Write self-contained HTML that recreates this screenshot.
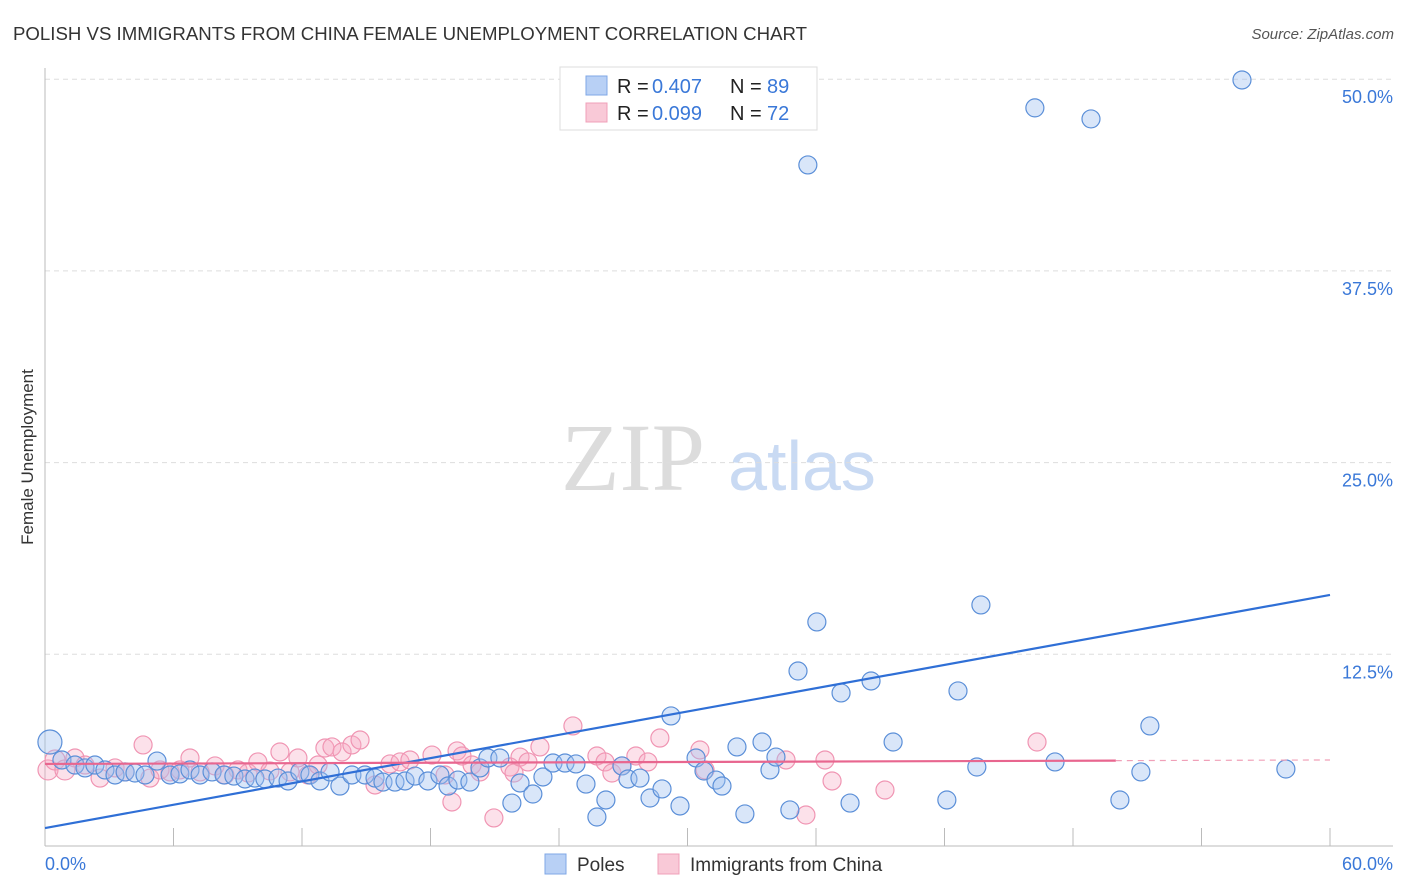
<!DOCTYPE html>
<html><head><meta charset="utf-8"><style>
body{margin:0;background:#fff;font-family:"Liberation Sans",sans-serif;}
svg{display:block}
</style></head><body>
<svg id="chart" width="1406" height="892">
<text x="13" y="40" font-size="18" fill="#333" textLength="794" lengthAdjust="spacingAndGlyphs">POLISH VS IMMIGRANTS FROM CHINA FEMALE UNEMPLOYMENT CORRELATION CHART</text>
<text x="1394" y="39" font-size="15" font-style="italic" fill="#555" text-anchor="end">Source: ZipAtlas.com</text>
<text x="33" y="457" font-size="17" fill="#333" text-anchor="middle" transform="rotate(-90 33 457)">Female Unemployment</text>
<g>
<text x="633" y="490" font-size="96" font-family="Liberation Serif,serif" fill="#dcdcdc" text-anchor="middle">ZIP</text>
<text x="802" y="490" font-size="70" fill="#c9daf3" text-anchor="middle">atlas</text>
</g>
<g id="grid"></g>
<g id="axes"></g>
<g id="marks"></g>
<g>
<rect x="560" y="67" width="257" height="63" fill="#fff" stroke="#ddd"/>
<rect x="586" y="76" width="21" height="19" fill="#b8d0f5" stroke="#7fa7e6"/>
<rect x="586" y="103" width="21" height="19" fill="#f9c9d7" stroke="#f0a0b8"/>
<text x="617" y="93" font-size="20" fill="#222">R =</text>
<text x="652" y="93" font-size="20" fill="#3a78d8">0.407</text>
<text x="730" y="93" font-size="20" fill="#222">N =</text>
<text x="767" y="93" font-size="20" fill="#3a78d8">89</text>
<text x="617" y="120" font-size="20" fill="#222">R =</text>
<text x="652" y="120" font-size="20" fill="#3a78d8">0.099</text>
<text x="730" y="120" font-size="20" fill="#222">N =</text>
<text x="767" y="120" font-size="20" fill="#3a78d8">72</text>
</g>
<g>
<rect x="545" y="854" width="21" height="20" fill="#b8d0f5" stroke="#7fa7e6"/>
<text x="577" y="871" font-size="19" fill="#333">Poles</text>
<rect x="658" y="854" width="21" height="20" fill="#f9c9d7" stroke="#f0a0b8"/>
<text x="690" y="871" font-size="19" fill="#333">Immigrants from China</text>
</g>
</svg>
<script>
const xTicks=[0,6,12,18,24,30,36,42,48,54,60];
const yTicks=[12.5,25,37.5,50];
const yTickLabels=["12.5%","25.0%","37.5%","50.0%"];
const polesX=[.23,.79,1.4,1.87,2.33,2.8,3.27,3.74,4.2,4.67,5.23,5.84,6.3,6.77,7.24,7.8,8.36,8.82,9.34,9.8,10.27,10.88,11.35,11.9,12.37,12.84,13.31,13.77,14.33,14.94,15.41,15.78,16.34,16.81,17.28,17.88,18.44,18.82,19.28,19.84,20.31,20.68,21.24,21.8,22.18,22.78,23.25,23.72,24.28,24.79,25.26,25.77,26.19,26.94,27.22,27.78,28.25,28.81,29.65,29.23,30.4,30.77,31.33,31.61,32.31,32.68,33.48,33.85,34.13,34.78,35.16,35.62,36.04,37.17,37.59,38.57,39.6,42.11,42.63,43.51,43.7,46.22,47.16,48.84,50.19,51.17,51.59,55.89,57.94];
const polesY=[6.78,5.61,5.28,5.09,5.28,4.96,4.63,4.83,4.76,4.63,5.54,4.63,4.7,4.96,4.63,4.83,4.63,4.56,4.37,4.43,4.37,4.43,4.24,4.83,4.63,4.24,4.83,3.91,4.63,4.63,4.43,4.17,4.17,4.24,4.56,4.24,4.63,3.91,4.3,4.17,5.09,5.74,5.74,2.8,4.11,3.39,4.5,5.41,5.41,5.35,4.04,1.89,3.0,5.22,4.37,4.43,3.13,3.72,2.61,8.48,5.74,4.89,4.3,3.91,6.46,2.09,6.78,4.96,5.8,2.35,11.41,44.41,14.61,9.98,2.8,10.76,6.78,3.0,10.11,5.15,15.72,48.13,5.48,47.41,3.0,4.83,7.83,49.95,5.02];
const chinaX=[.14,.47,.93,1.4,1.87,2.57,3.27,3.74,4.58,4.9,5.37,5.84,6.3,6.77,7.24,7.94,8.4,9.01,9.48,9.94,10.5,10.97,11.44,11.81,12.28,12.75,13.07,13.4,13.87,14.33,14.71,15.41,16.11,16.58,17.04,18.07,18.68,19.0,19.24,19.47,19.94,20.31,20.96,21.71,21.9,22.18,22.55,23.11,24.65,25.77,26.15,26.47,26.94,27.59,28.15,28.71,30.58,30.82,34.6,35.53,36.42,36.75,39.22,46.32];
const chinaY=[4.96,5.61,4.96,5.74,5.28,4.43,5.09,4.83,6.59,4.43,4.96,4.83,4.96,5.74,4.83,5.22,4.63,4.96,4.76,5.48,4.89,6.13,4.83,5.74,4.63,5.28,6.39,6.46,6.13,6.59,6.91,3.98,5.35,5.48,5.61,5.93,4.63,2.87,6.2,5.87,5.28,4.83,1.83,5.15,4.76,5.8,5.48,6.46,7.83,5.87,5.48,4.76,5.22,5.87,5.48,7.04,6.26,4.96,5.61,2.02,5.61,4.24,3.65,6.78];
const polesTrend=[1.17,16.37];
const chinaTrend=[5.35,5.61];
const chinaTrendEnd=50;
const NS="http://www.w3.org/2000/svg";
const sx=v=>45+v/60*1285;
const sy=v=>846-v/12.5*191.7;
function mk(tag,attrs,parent){const e=document.createElementNS(NS,tag);for(const k in attrs)e.setAttribute(k,attrs[k]);parent.appendChild(e);return e;}
const grid=document.getElementById('grid'),axes=document.getElementById('axes'),marks=document.getElementById('marks');
yTicks.forEach((t,i)=>{
 const l=mk('line',{x1:45,x2:1393,y1:sy(t),y2:sy(t),stroke:'#ddd','stroke-dasharray':'5,4'},grid);
 
 
 const tx=mk('text',{x:1393,y:sy(t)+24,'font-size':18,fill:'#3a78d8','text-anchor':'end'},axes);
 tx.textContent=yTickLabels[i];
 
 
});
const la=mk('line',{x1:45,x2:45,y1:68,y2:846,stroke:'#bbb'},axes);


const ba=mk('line',{x1:45,x2:1393,y1:846,y2:846,stroke:'#bbb'},axes);


xTicks.forEach(t=>{
 const l=mk('line',{x1:sx(t),x2:sx(t),y1:828,y2:846,stroke:'#bbb'},axes);
 
 
});
const xl0=mk('text',{x:45,y:870,'font-size':18,fill:'#3a78d8'},axes);xl0.textContent=xTicks[0].toFixed(1)+'%';


const xl1=mk('text',{x:1393,y:870,'font-size':18,fill:'#3a78d8','text-anchor':'end'},axes);xl1.textContent=xTicks[xTicks.length-1].toFixed(1)+'%';


chinaX.forEach((x,i)=>{
 const c=mk('circle',{cx:sx(x),cy:sy(chinaY[i]),r:i<3?10:9,fill:'rgba(246,170,196,0.35)',stroke:'#f095b3','stroke-width':1.2},marks);
 
 
});
polesX.forEach((x,i)=>{
 const c=mk('circle',{cx:sx(x),cy:sy(polesY[i]),r:i==0?12:9,fill:'rgba(160,192,240,0.4)',stroke:'#5b8fd8','stroke-width':1.2},marks);
 
 
});
const pt=mk('line',{x1:sx(0),y1:sy(polesTrend[0]),x2:sx(60),y2:sy(polesTrend[1]),stroke:'#2f6fd6','stroke-width':2.2},marks);


const ye=chinaTrend[0]+(chinaTrend[1]-chinaTrend[0])*chinaTrendEnd/60;
const ct=mk('line',{x1:sx(0),y1:sy(chinaTrend[0]),x2:sx(chinaTrendEnd),y2:sy(ye),stroke:'#e8668f','stroke-width':2.2},marks);


const cd=mk('line',{x1:sx(chinaTrendEnd),y1:sy(ye),x2:sx(60),y2:sy(chinaTrend[1]),stroke:'#f0a0b8','stroke-width':1.2,'stroke-dasharray':'6,5'},marks);


</script>
</body></html>
